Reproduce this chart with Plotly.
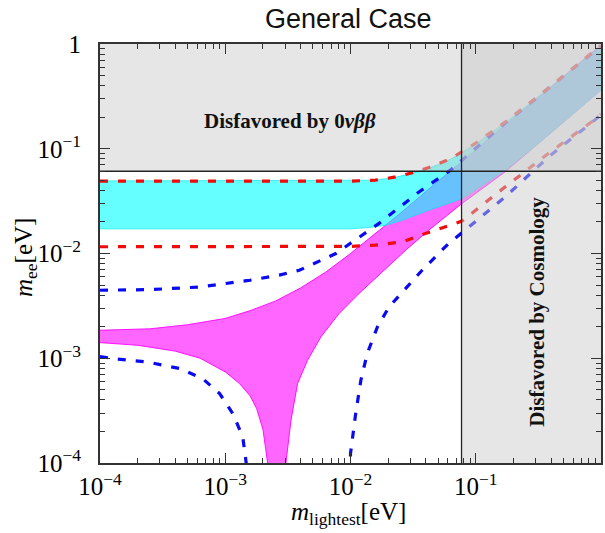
import plotly.graph_objects as go

# ---------------- data (m_lightest [eV], m_ee [eV]) ----------------
# Normal ordering (magenta band), upper boundary
no_upper_x = [1e-4, 2.51e-4, 5.01e-4, 1e-3, 1.58e-3, 2.51e-3, 3.98e-3, 6.31e-3, 1e-2,
              1.58e-2, 2.51e-2, 3.98e-2, 6.31e-2, 0.1, 0.316, 1.0]
no_upper_y = [1.85e-3, 1.91e-3, 2.09e-3, 2.40e-3, 2.85e-3, 3.51e-3, 4.68e-3, 6.61e-3, 1e-2,
              1.55e-2, 2.43e-2, 3.89e-2, 6.17e-2, 9.77e-2, 0.309, 0.977]
# Normal ordering lower boundary, left branch (drops to m_ee -> 0)
no_lower_left_x = [1e-4, 2.0e-4, 3.98e-4, 6.31e-4, 1e-3, 1.30e-3, 1.58e-3, 1.78e-3, 2.0e-3,
                   2.11e-3, 2.18e-3, 2.24e-3]
no_lower_left_y = [1.41e-3, 1.33e-3, 1.17e-3, 1.0e-3, 7.41e-4, 5.73e-4, 4.37e-4, 3.31e-4, 2.09e-4,
                   1.38e-4, 1.0e-4, 1e-6]
# Normal ordering lower boundary, right branch
no_lower_right_x = [3.02e-3, 3.05e-3, 3.35e-3, 3.78e-3, 4.54e-3, 5.81e-3, 8.11e-3, 1.17e-2, 1.85e-2,
                    2.82e-2, 4.22e-2, 7.62e-2, 0.172, 0.316, 1.0]
no_lower_right_y = [1e-6, 1e-4, 2.56e-4, 5.73e-4, 9.57e-4, 1.60e-3, 2.67e-3, 4.15e-3, 6.92e-3,
                    1.10e-2, 1.67e-2, 2.95e-2, 6.03e-2, 0.112, 0.363]

# Inverted ordering (cyan band)
io_upper_x = [1e-4, 1e-2, 1.58e-2, 2.24e-2, 3.11e-2, 4.47e-2, 6.31e-2, 0.1, 0.172, 0.316, 1.0]
io_upper_y = [4.93e-2, 4.93e-2, 5.01e-2, 5.31e-2, 5.82e-2, 6.68e-2, 7.94e-2, 0.111, 0.177, 0.314, 0.955]
io_lower_x = [1e-4, 1e-2, 1.41e-2, 1.91e-2, 2.59e-2, 4.22e-2, 7.62e-2, 0.172, 0.316, 1.0]
io_lower_y = [1.72e-2, 1.72e-2, 1.77e-2, 1.86e-2, 2.08e-2, 2.59e-2, 3.31e-2, 6.25e-2, 0.112, 0.363]

# 3-sigma dashed curves
red_upper_x = [1e-4, 1e-2, 1.58e-2, 2.24e-2, 3.11e-2, 4.47e-2, 6.31e-2, 0.1, 0.172, 0.316, 1.0]
red_upper_y = [4.91e-2, 4.91e-2, 5.01e-2, 5.35e-2, 5.89e-2, 6.76e-2, 8.05e-2, 0.113, 0.180, 0.318, 0.965]
red_lower_x = [1e-4, 5.01e-3, 1e-2, 1.58e-2, 2.59e-2, 3.96e-2, 7.76e-2, 0.172, 0.380, 0.843, 1.0]
red_lower_y = [1.16e-2, 1.16e-2, 1.17e-2, 1.20e-2, 1.29e-2, 1.55e-2, 2.04e-2, 4.33e-2, 9.02e-2, 0.181, 0.214]
blue_upper_x = [1e-4, 2.51e-4, 6.31e-4, 1.58e-3, 2.70e-3, 3.90e-3, 7.64e-3, 1.69e-2, 3.52e-2,
                6.28e-2, 7.76e-2, 0.172, 0.316, 1.0]
blue_upper_y = [4.46e-3, 4.52e-3, 4.79e-3, 5.56e-3, 6.21e-3, 6.92e-3, 1e-2, 1.94e-2, 3.87e-2,
                6.25e-2, 7.78e-2, 0.176, 0.316, 0.955]
blue_lower_x = [1e-4, 1.27e-4, 2.35e-4, 4.33e-4, 6.59e-4, 9.02e-4, 1.15e-3, 1.38e-3, 1.47e-3, 1.51e-3,
                None,
                9.77e-3, 9.93e-3, 1.0e-2, 1.10e-2, 1.21e-2, 1.36e-2, 1.64e-2, 2.03e-2, 2.67e-2,
                3.73e-2, 6.08e-2, 7.62e-2, 0.172, 0.280, 0.380, 0.843, 1.0]
blue_lower_y = [1.04e-3, 9.93e-4, 9.23e-4, 7.98e-4, 6.40e-4, 4.60e-4, 2.96e-4, 1.77e-4, 1e-4, 1e-6,
                None,
                1e-6, 1e-4, 1.23e-4, 2.96e-4, 6.17e-4, 1.11e-3, 1.99e-3, 3.09e-3, 4.46e-3,
                6.92e-3, 1.25e-2, 1.55e-2, 3.48e-2, 6.03e-2, 8.32e-2, 0.178, 0.211]

# Experimental limits
mee_limit = 0.061        # 0vbb bound on m_ee
mlight_limit = 0.077     # cosmology bound on m_lightest
axis_min, axis_max = 1e-4, 1.0

tick_vals = [1e-4, 1e-3, 1e-2, 1e-1, 1.0]
tick_text = ["10<sup>\u22124</sup>", "10<sup>\u22123</sup>", "10<sup>\u22122</sup>",
             "10<sup>\u22121</sup>", "1"]

# ---------------- figure ----------------
fig = go.Figure()

# magenta NO band
fig.add_trace(go.Scatter(
    x=no_upper_x + no_lower_right_x[::-1] + no_lower_left_x[::-1],
    y=no_upper_y + no_lower_right_y[::-1] + no_lower_left_y[::-1],
    fill="toself", fillcolor="rgba(255,0,255,0.6)", mode="lines",
    line=dict(color="rgba(255,0,255,0.9)", width=1), hoverinfo="skip", showlegend=False))
# cyan IO band
fig.add_trace(go.Scatter(
    x=io_upper_x + io_lower_x[::-1],
    y=io_upper_y + io_lower_y[::-1],
    fill="toself", fillcolor="rgba(0,255,255,0.6)", mode="lines",
    line=dict(color="rgba(0,235,235,0.7)", width=1), hoverinfo="skip", showlegend=False))

dash = "8px,10px"
for xs, ys, col in [(blue_upper_x, blue_upper_y, "rgb(10,10,240)"),
                    (blue_lower_x, blue_lower_y, "rgb(10,10,240)"),
                    (red_upper_x, red_upper_y, "rgb(240,10,10)"),
                    (red_lower_x, red_lower_y, "rgb(240,10,10)")]:
    fig.add_trace(go.Scatter(x=xs, y=ys, mode="lines", connectgaps=False,
                             line=dict(color=col, width=3.2, dash=dash),
                             hoverinfo="skip", showlegend=False))

gray = "rgba(203,203,203,0.48)"
# disfavored by 0vbb
fig.add_trace(go.Scatter(x=[axis_min, axis_max, axis_max, axis_min, axis_min],
                         y=[mee_limit, mee_limit, axis_max, axis_max, mee_limit],
                         fill="toself", fillcolor=gray, mode="lines", line=dict(width=0),
                         hoverinfo="skip", showlegend=False))
# disfavored by cosmology
fig.add_trace(go.Scatter(x=[mlight_limit, axis_max, axis_max, mlight_limit, mlight_limit],
                         y=[axis_min, axis_min, axis_max, axis_max, axis_min],
                         fill="toself", fillcolor=gray, mode="lines", line=dict(width=0),
                         hoverinfo="skip", showlegend=False))
# limit lines
fig.add_trace(go.Scatter(x=[axis_min, axis_max], y=[mee_limit, mee_limit], mode="lines",
                         line=dict(color="#222", width=1.3), hoverinfo="skip", showlegend=False))
fig.add_trace(go.Scatter(x=[mlight_limit, mlight_limit], y=[axis_min, axis_max], mode="lines",
                         line=dict(color="#222", width=1.3), hoverinfo="skip", showlegend=False))

minor_vals = [m * 10.0 ** k for k in range(-4, 0) for m in range(2, 10)]
tickfont = dict(family="Liberation Serif", size=25, color="black")
axis_common = dict(type="log", range=[-4, 0], showgrid=False, zeroline=False,
                   showline=True, linecolor="#333", linewidth=2, mirror="allticks",
                   ticks="inside", ticklen=10, tickwidth=1.4, tickcolor="#333",
                   tickmode="array", tickvals=tick_vals, ticktext=tick_text, tickfont=tickfont,
                   minor=dict(ticks="inside", ticklen=5, tickwidth=1.2, tickcolor="#333",
                              tickmode="array", tickvals=minor_vals, showgrid=False))
fig.update_xaxes(**axis_common, ticklabelstandoff=0)
fig.update_yaxes(**axis_common, ticklabelstandoff=12)

fig.update_layout(
    width=605, height=533, autosize=False,
    margin=dict(l=100, r=2, t=44, b=70),
    paper_bgcolor="white", plot_bgcolor="white",
    font=dict(family="Liberation Serif", color="black"),
    annotations=[
        dict(text="General Case", xref="paper", yref="paper", x=0.497, y=1.0, yshift=25,
             xanchor="center", yanchor="middle", showarrow=False,
             font=dict(family="Liberation Sans", size=27, color="#111")),
        dict(text="<b>Disfavored by 0<i>\u03bd\u03b2\u03b2</i></b>", xref="paper", yref="paper",
             x=0.38, y=0.816, xanchor="center", yanchor="middle", showarrow=False,
             font=dict(family="Liberation Serif", size=21, color="#111")),
        dict(text="<b>Disfavored by Cosmology</b>", xref="paper", yref="paper",
             x=0.873, y=0.362, xanchor="center", yanchor="middle", showarrow=False,
             textangle=-90, font=dict(family="Liberation Serif", size=21, color="#111")),
        dict(text="<i>m</i><sub>lightest</sub>[eV]", xref="paper", yref="paper",
             x=0.497, y=-0.12, xanchor="center", yanchor="middle", showarrow=False,
             font=dict(family="Liberation Serif", size=25, color="black")),
        dict(text="<i>m</i><sub>ee</sub>[eV]", xref="paper", yref="paper",
             x=-0.149, y=0.49, xanchor="center", yanchor="middle", showarrow=False,
             textangle=-90, font=dict(family="Liberation Serif", size=25, color="black")),
    ],
)

fig.write_html("out.html")
